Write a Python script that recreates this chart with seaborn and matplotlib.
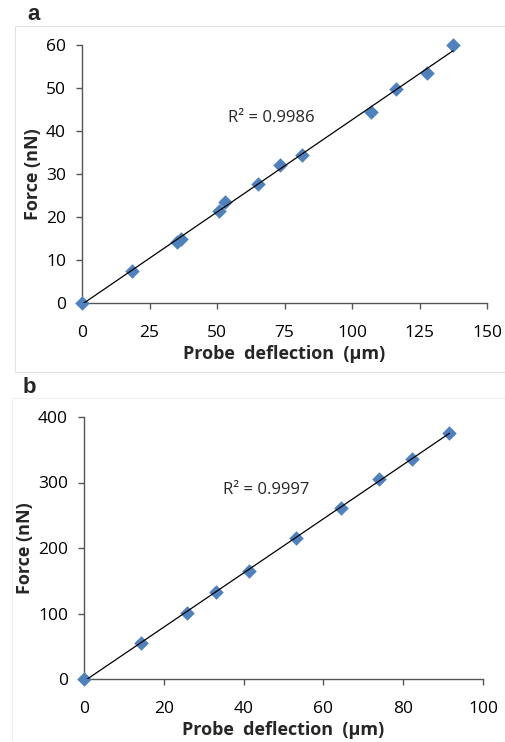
import numpy as np
import pandas as pd
import matplotlib
matplotlib.use("Agg")
import matplotlib.pyplot as plt
import seaborn as sns
from matplotlib.patches import Rectangle

# ---- data ----
a_deflection = [0, 18.4, 35.2, 36.7, 50.9, 53.1, 65.1, 73.5, 81.4, 107.0, 116.3, 127.8, 137.4]
a_force = [0, 7.5, 14.2, 14.8, 21.4, 23.5, 27.6, 32.1, 34.4, 44.4, 49.6, 53.5, 59.9]
b_deflection = [0, 14.3, 25.9, 33.1, 41.4, 53.1, 64.5, 73.9, 82.3, 91.6]
b_force = [0, 55.5, 100.8, 133.3, 164.9, 215.8, 261.6, 305.9, 336.4, 375.6]
a_r2 = "R² = 0.9986"
b_r2 = "R² = 0.9997"
a_xticks = [0, 25, 50, 75, 100, 125, 150]
a_yticks = [0, 10, 20, 30, 40, 50, 60]
b_xticks = [0, 20, 40, 60, 80, 100]
b_yticks = [0, 100, 200, 300, 400]
xlabel = "Probe  deflection  (µm)"
ylabel = "Force (nN)"

sns.set_theme(style="ticks")
plt.rcParams['font.family'] = ['Open Sans', 'DejaVu Sans']
plt.rcParams['xtick.bottom'] = True
plt.rcParams['ytick.left'] = True

fig = plt.figure(figsize=(5.05, 7.42), dpi=100)
W, H = 505, 742

def frac_axes(l, t, r, b):
    return fig.add_axes([l / W, 1 - b / H, (r - l) / W, (b - t) / H])

# panel frames
fig.patches.append(Rectangle((15 / W, 1 - 372 / H), (505 - 15) / W, (372 - 26) / H,
                             transform=fig.transFigure, fill=False, ec="#e3e3e3", lw=0.8))
fig.patches.append(Rectangle((12 / W, 1 - 745 / H), (510 - 12) / W, (745 - 398) / H,
                             transform=fig.transFigure, fill=False, ec="#f0f0f0", lw=0.8))

blue = "#4F81BD"

def panel(ax, xs, ys, xticks, yticks, r2, r2pos, letter, letterpos):
    df = pd.DataFrame({"x": xs, "y": ys})
    sns.scatterplot(data=df, x="x", y="y", ax=ax, marker="D", s=55, color=blue,
                    linewidth=0, zorder=3, clip_on=False)
    k, c = np.polyfit(df["x"], df["y"], 1)
    xl = np.array([0, max(xs)])
    sns.lineplot(x=xl, y=k * xl + c, ax=ax, color="black", linewidth=0.9, zorder=4)
    ax.set_xlim(xticks[0], xticks[-1])
    ax.set_ylim(yticks[0], yticks[-1])
    ax.set_xticks(xticks)
    ax.set_yticks(yticks)
    ax.tick_params(axis="both", which="major", bottom=True, left=True, direction="out",
                   length=4, width=1.0, color="#555555", labelcolor="black",
                   labelsize=12.5)
    ax.tick_params(axis="x", pad=12)
    ax.tick_params(axis="y", pad=7.5)
    for s in ["top", "right"]:
        ax.spines[s].set_visible(False)
    for s in ["left", "bottom"]:
        ax.spines[s].set_color("#555555")
        ax.spines[s].set_linewidth(1.0)
    ax.set_xlabel(xlabel, fontsize=13, fontweight="bold", labelpad=3)
    ax.set_ylabel(ylabel, fontsize=13, fontweight="bold", labelpad=3)
    ax.text(r2pos[0], r2pos[1], r2, fontsize=12, ha="left", va="center")
    fig.text(letterpos[0] / W, 1 - letterpos[1] / H, letter, fontsize=16, fontweight="bold",
             family=["Liberation Sans", "DejaVu Sans"], ha="left", va="center")

ax1 = frac_axes(82, 44.7, 487, 303)
panel(ax1, a_deflection, a_force, a_xticks, a_yticks, a_r2, (54, 43), "a", (27, 15))

ax2 = frac_axes(84, 417, 483, 679)
panel(ax2, b_deflection, b_force, b_xticks, b_yticks, b_r2, (34.8, 288), "b", (23, 387))

fig.savefig("out.png", dpi=100)
